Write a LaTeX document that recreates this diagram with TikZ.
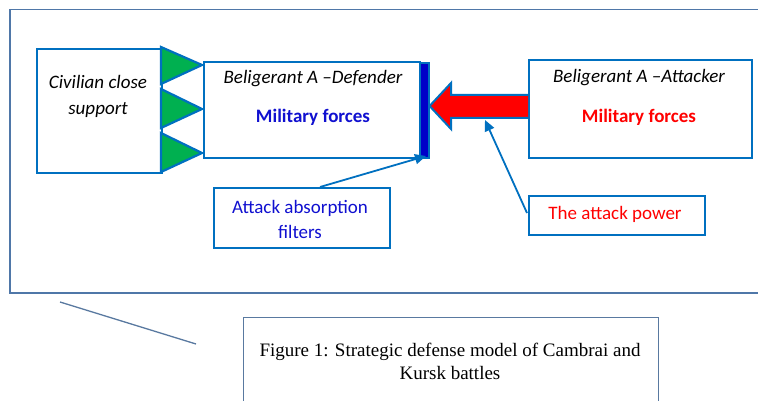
\documentclass[tikz,border=0pt]{standalone}
\usepackage{fontspec}
\setmainfont{Carlito}
\newfontfamily\capfont{Liberation Serif}
\usetikzlibrary{arrows.meta}
\definecolor{bblue}{HTML}{0070C0}
\definecolor{frameblue}{HTML}{4F77A8}
\definecolor{ggreen}{HTML}{00B050}
\definecolor{dblue}{HTML}{0000C8}
\definecolor{txtblue}{HTML}{1010D0}
\definecolor{rred}{HTML}{FF0000}
\tikzset{
  bx/.style={draw=bblue, line width=2.4pt, fill=white},
  tri/.style={draw=bblue, line width=2.2pt, fill=ggreen, line join=miter},
  lbl/.style={inner sep=0pt, align=center, font=\fontsize{19}{25}\selectfont},
  conn/.style={draw=bblue, line width=1.8pt, -{Triangle[length=11pt,width=10pt]}},
}
\begin{document}
\begin{tikzpicture}[x=1pt,y=-1pt]
\useasboundingbox (0,0) rectangle (758,401);
% outer frame
\draw[frameblue, line width=1.6pt] (760,9.5) -- (10,9.5) -- (10,293) -- (760,293);
% boxes
\node[bx, minimum width=125pt, minimum height=124pt, anchor=north west] (civ) at (36,48) {};
\node[lbl, font=\itshape\fontsize{19}{26}\selectfont] (civt) at (98,96) {Civilian close\\support};
% triangles
\draw[tri] (161,47) -- (202,65) -- (161,84) -- cycle;
\draw[tri] (161,89) -- (202,109) -- (161,128) -- cycle;
\draw[tri] (161,133) -- (202,153) -- (161,172) -- cycle;
\node[bx, minimum width=216pt, minimum height=96pt, anchor=north west] (def) at (203,61) {};
\node[lbl, font=\itshape\fontsize{19}{25}\selectfont] (deft) at (313,79) {Beligerant A –Defender};
\node[lbl, font=\bfseries\fontsize{19}{25}\selectfont, text=txtblue] (defm) at (313,117) {Military forces};
% absorption bar
\node[draw=bblue, line width=1.6pt, fill=dblue, minimum width=9pt, minimum height=95pt, inner sep=0pt, anchor=north west] (bar) at (419,62) {};
\node[bx, minimum width=223pt, minimum height=98pt, anchor=north west] (att) at (528,59) {};
\node[lbl, font=\itshape\fontsize{19}{25}\selectfont] (attt) at (639,78) {Beligerant A –Attacker};
\node[lbl, font=\bfseries\fontsize{19}{25}\selectfont, text=rred] (attm) at (639,117) {Military forces};
% red arrow
\draw[draw=bblue, line width=2pt, fill=rred] (att.west |- 0,95) -- (451,95) -- (451,83) -- (bar.east |- 0,106) -- (451,129) -- (451,118) -- (att.west |- 0,118) ;
% label boxes
\node[bx, minimum width=176pt, minimum height=60pt, anchor=north west] (abs) at (213,187) {};
\node[lbl, text=txtblue, font=\fontsize{19}{25}\selectfont] (abst) at (300,219) {Attack absorption\\filters};
\node[bx, minimum width=176pt, minimum height=39pt, anchor=north west] (pow) at (528,195) {};
\node[lbl, text=rred] (powt) at (615,214) {The attack power};
% connectors
\coordinate (abstop) at (320,187);
\coordinate (bartip) at (426,156);
\draw[conn] (abstop) -- (bartip);
\coordinate (powtop) at (527,213);
\coordinate (arrtip) at (485,120);
\draw[conn] (powtop) -- (arrtip);
% caption
\draw[frameblue!80!gray, line width=1.3pt] (60,302) -- (196,344);
\node[draw=frameblue!80!gray, line width=1.3pt, minimum width=415pt, minimum height=100pt, anchor=north west] (cap) at (243,317) {};
\node[lbl, font=\capfont\fontsize{19}{23}\selectfont] (capt) at (450,361) {Figure 1: Strategic defense model of Cambrai and\\Kursk battles};
\end{tikzpicture}
\end{document}
